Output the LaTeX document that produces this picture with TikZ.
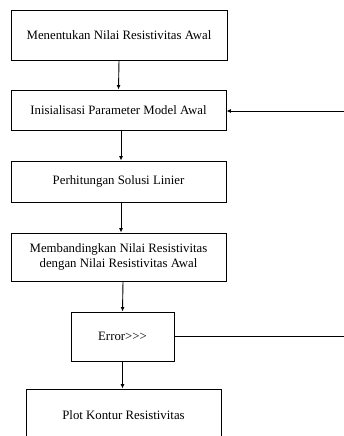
\documentclass[tikz,border=0pt]{standalone}
\usepackage{fontspec}
\setmainfont{Liberation Serif}
\usetikzlibrary{arrows.meta}

\begin{document}
\begin{tikzpicture}[x=1pt,y=-1pt,
    stepbox/.style={draw,line width=0.9pt,rectangle,align=center,inner sep=0pt,font=\fontsize{12.8}{15}\selectfont},
    flow/.style={line width=0.9pt,-{Latex[length=4.5pt,width=4pt]}}]
      \useasboundingbox (0,0) rectangle (344,436);
      \clip (0,0) rectangle (344,436);
      % boxes
      \node[stepbox,minimum width=216pt,minimum height=50pt] (awal) at (119,35) {Menentukan Nilai Resistivitas Awal};
      \node[stepbox,minimum width=215pt,minimum height=40pt] (init) at (118.5,110) {Inisialisasi Parameter Model Awal};
      \node[stepbox,minimum width=215pt,minimum height=41pt] (linier) at (118.5,181.5) {Perhitungan Solusi Linier};
      \node[stepbox,minimum width=215pt,minimum height=48pt] (banding) at (118.5,257) {Membandingkan Nilai Resistivitas\\dengan Nilai Resistivitas Awal};
      \node[stepbox,minimum width=103pt,minimum height=49pt] (err) at (122.5,336.5) {Error{>}{>}{>}};
      \node[stepbox,minimum width=195pt,minimum height=52pt] (plot) at (123.5,415) {Plot Kontur Resistivitas};
      % free ends at the right edge
      \coordinate (balik) at (344,111);
      \coordinate (keluar) at (344,336.5);
      % connectors
      \draw[flow] (awal.south) -- (init.north);
      \draw[flow] ([xshift=2.5pt]init.south) -- ([xshift=2.5pt]linier.north);
      \draw[flow] ([xshift=2.5pt]linier.south) -- ([xshift=2.5pt]banding.north);
      \draw[flow] ([xshift=4.5pt]banding.south) -- (err.north);
      \draw[flow] (err.south) -- (err.south |- plot.north);
      \draw[line width=0.9pt] (err.east) -- (keluar);
      \draw[flow] (balik) -- (init.east |- balik);
    \end{tikzpicture}
\end{document}
